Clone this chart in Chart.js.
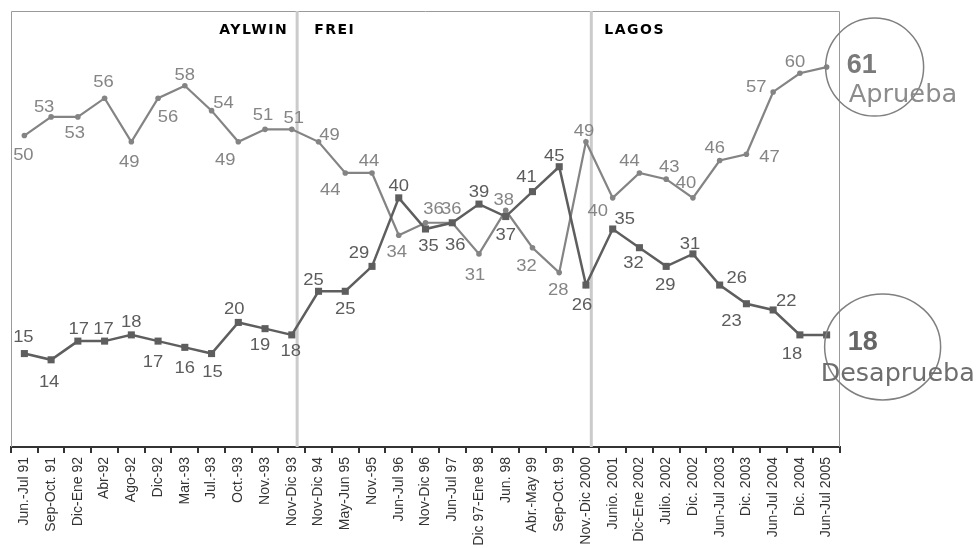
<!DOCTYPE html>
<html><head><meta charset="utf-8">
<script src="https://cdn.jsdelivr.net/npm/chart.js@4.4.1/dist/chart.umd.min.js"></script>
<style>html,body{margin:0;padding:0;background:#fff;overflow:hidden}</style>
</head><body>
<canvas id="c" width="977" height="548"></canvas>
<script>
const categories = ['Jun.-Jul 91','Sep-Oct. 91','Dic-Ene 92','Abr-92','Ago-92','Dic-92','Mar.-93','Jul.-93','Oct.-93','Nov.-93','Nov-Dic 93','Nov-Dic 94','May-Jun 95','Nov.-95','Jun-Jul 96','Nov-Dic 96','Jun-Jul 97','Dic 97-Ene 98','Jun. 98','Abr.-May 99','Sep-Oct. 99','Nov.-Dic 2000','Junio. 2001','Dic-Ene 2002','Julio. 2002','Dic. 2002','Jun-Jul 2003','Dic. 2003','Jun-Jul 2004','Dic. 2004','Jun-Jul 2005'];
const aprueba = [50,53,53,56,49,56,58,54,49,51,51,49,44,44,34,36,36,31,38,32,28,49,40,44,43,40,46,47,57,60,61];
const desaprueba = [15,14,17,17,18,17,16,15,20,19,18,25,25,29,40,35,36,39,37,41,45,26,35,32,29,31,26,23,22,18,18];
const seriesNames = ['Aprueba','Desaprueba'];
const presidents = ['AYLWIN','FREI','LAGOS'];
const periodBreaks = [10.2, 21.2]; // separator positions, in category-index units

// relative nudges of each value label from its point (pixels)
const aprLabelOffsets = [[-1,19],[-7,-11],[-3,15],[-1,-17],[-2,19],[10,18],[0,-11],[12,-8],[-13,17],[-2,-15],[2,-12],[11,-8],[-15,16],[-3,-13],[-2,16],[8,-14],[-1,-14],[-4,20],[-2,-11],[-6,18],[-1,17],[-2,-12],[-15,12],[-10,-13],[3,-13],[-7,-16],[-5,-13],[23,2],[-17,-6],[-5,-12],null];
const desLabelOffsets = [[-1,-17],[-2,21],[1,-13],[-1,-13],[0,-14],[-5,20],[0,20],[1,18],[-4,-14],[-5,16],[-1,15],[-5,-12],[0,17],[-13,-14],[0,-13],[3,16],[3,22],[0,-13],[0,18],[-6,-15],[-5,-11],[-4,19],[12,-11],[-6,15],[-1,18],[-3,-11],[17,-8],[-15,17],[13,-10],[-8,18],null];

function stretchedText(ctx, txt, x, y, sx){
  ctx.save(); ctx.translate(x,y); ctx.scale(sx,1); ctx.fillText(txt,0,0); ctx.restore();
}

const decor = {
  id:'decor',
  beforeDatasetsDraw(chart){
    const {ctx, chartArea:a, scales:{x}} = chart;
    ctx.save();
    ctx.strokeStyle='#9a9a9a'; ctx.lineWidth=1;
    ctx.beginPath();
    ctx.moveTo(a.left+0.5, a.bottom); ctx.lineTo(a.left+0.5, a.top+0.5);
    ctx.lineTo(a.right-0.5, a.top+0.5); ctx.lineTo(a.right-0.5, a.bottom);
    ctx.stroke();
    const step = x.getPixelForValue(1)-x.getPixelForValue(0);
    const seps = periodBreaks.map(v => x.getPixelForValue(Math.floor(v)) + (v-Math.floor(v))*step);
    ctx.strokeStyle='#cbcbcb'; ctx.lineWidth=3;
    seps.forEach(px => {ctx.beginPath(); ctx.moveTo(px,a.top); ctx.lineTo(px,a.bottom); ctx.stroke();});
    ctx.fillStyle='#000'; ctx.font='bold 14px "DejaVu Sans"';
    ctx.letterSpacing='1.5px'; ctx.textBaseline='alphabetic';
    const by = a.top + 23;
    ctx.textAlign='right'; ctx.fillText(presidents[0], seps[0]-9, by);
    ctx.textAlign='left'; ctx.fillText(presidents[1], seps[0]+17, by);
    ctx.fillText(presidents[2], seps[1]+13, by);
    ctx.restore();
  },
  afterDatasetsDraw(chart){
    const {ctx} = chart;
    const cfg = [
      {data:aprueba, off:aprLabelOffsets, color:'#858585', meta:chart.getDatasetMeta(0)},
      {data:desaprueba, off:desLabelOffsets, color:'#5c5c5c', meta:chart.getDatasetMeta(1)}
    ];
    ctx.save();
    ctx.font='16px "Liberation Sans", Arial, sans-serif';
    ctx.textAlign='center'; ctx.textBaseline='alphabetic';
    cfg.forEach(c => {
      ctx.fillStyle=c.color;
      c.meta.data.forEach((pt,j) => {
        const o = c.off[j]; if(!o) return;
        stretchedText(ctx, String(c.data[j]), pt.x+o[0], pt.y+o[1]+5.7, 1.15);
      });
    });
    ctx.restore();
  },
  afterDraw(chart){
    const {ctx} = chart;
    const pa = chart.getDatasetMeta(0).data[aprueba.length-1];
    const pd = chart.getDatasetMeta(1).data[desaprueba.length-1];
    ctx.save();
    ctx.strokeStyle='#808080'; ctx.lineWidth=1.5;
    ctx.beginPath(); ctx.ellipse(pa.x+48, pa.y, 49, 49, 0, 0, Math.PI*2); ctx.stroke();
    ctx.beginPath(); ctx.ellipse(pd.x+56, pd.y+12, 58, 53, 0, 0, Math.PI*2); ctx.stroke();
    ctx.textAlign='left'; ctx.textBaseline='alphabetic';
    ctx.fillStyle='#7a7a7a'; ctx.font='bold 27px "Liberation Sans", Arial, sans-serif';
    ctx.fillText(String(aprueba[aprueba.length-1]), pa.x+20, pa.y+6);
    ctx.fillStyle='#666'; 
    ctx.fillText(String(desaprueba[desaprueba.length-1]), pd.x+21, pd.y+15);
    ctx.font='24px "DejaVu Sans", sans-serif';
    ctx.fillStyle='#8c8c8c';
    stretchedText(ctx, seriesNames[0], pa.x+22, pa.y+35, 1.07);
    ctx.fillStyle='#6e6e6e';
    stretchedText(ctx, seriesNames[1], pd.x-6, pd.y+46, 1.06);
    ctx.restore();
  }
};

new Chart(document.getElementById('c'), {
  type:'line',
  data:{
    labels:categories,
    datasets:[
      {label:seriesNames[0], data:aprueba, borderColor:'#848484', backgroundColor:'#848484',
       borderWidth:2.2, pointStyle:'circle', pointRadius:2.8, pointBorderWidth:0, tension:0, order:2},
      {label:seriesNames[1], data:desaprueba, borderColor:'#5e5e5e', backgroundColor:'#5e5e5e',
       borderWidth:2.5, pointStyle:'rect', pointRadius:5, pointBorderWidth:0, tension:0, order:1}
    ]
  },
  options:{
    responsive:false, animation:false, devicePixelRatio:1,
    layout:{padding:{left:11, top:11, right:137, bottom:0}},
    plugins:{legend:{display:false}, tooltip:{enabled:false}},
    scales:{
      x:{
        type:'category', offset:true,
        afterFit(scale){ scale.height = 101; },
        border:{display:true, color:'#333', width:2},
        grid:{display:true, offset:true, drawOnChartArea:false, drawTicks:true, tickLength:6, color:'#333', lineWidth:2},
        ticks:{autoSkip:false, minRotation:90, maxRotation:90, padding:4, color:'#333',
               font:{family:'"Liberation Sans", Arial, sans-serif', size:14}}
      },
      y:{display:false, min:0, max:70}
    }
  },
  plugins:[decor]
});
</script>
</body></html>
